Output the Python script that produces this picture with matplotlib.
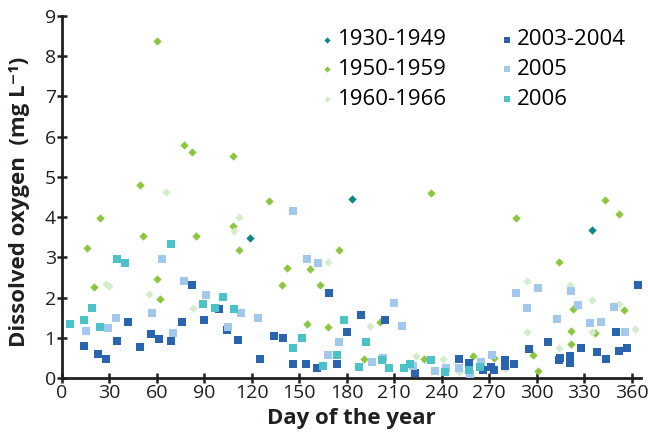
import matplotlib
matplotlib.use('Agg')
import matplotlib.pyplot as plt

# ==== data ==== #
DAYS_1930 = [119, 183, 335]
DO_1930 = [3.49, 4.45, 3.67]

DAYS_1950 = [60, 77, 82, 108, 49, 24, 108, 51, 85, 16, 112, 60, 20, 62,
             131, 233, 175, 142, 157, 139, 163, 155, 168, 201, 191, 229,
             343, 352, 287, 314, 323, 355, 337, 322, 322, 298, 301, 273, 260]
DO_1950 = [8.37, 5.80, 5.61, 5.51, 4.79, 3.97, 3.79, 3.52, 3.54, 3.22, 3.18, 2.45, 2.27, 1.96,
           4.39, 4.60, 3.19, 2.74, 2.70, 2.31, 2.30, 1.34, 1.26, 1.38, 0.48, 0.48,
           4.42, 4.07, 3.97, 2.88, 1.71, 1.70, 1.12, 1.17, 0.85, 0.56, 0.17, 0.50, 0.55]

DAYS_1960 = [66, 112, 109, 28, 30, 55, 83, 168, 195, 224, 241, 294, 321, 363,
             335, 352, 362, 294, 335, 314, 280, 251]
DO_1960 = [4.63, 4.00, 3.65, 2.34, 2.29, 2.08, 1.73, 2.88, 1.30, 0.55, 0.46, 2.42, 2.30, 2.37,
           1.94, 1.84, 1.22, 1.14, 1.14, 0.75, 0.23, 0.16]

DAYS_2003 = [82, 99, 14, 23, 28, 35, 42, 49, 56, 61, 69, 76, 90, 104, 111, 125,
             169, 189, 204, 134, 140, 180, 146, 154, 161, 174, 223,
             364, 350, 307, 295, 328, 338, 357, 352, 344, 315, 314, 321, 321,
             280, 280, 286, 251, 257, 266, 271, 273]
DO_2003 = [2.31, 1.72, 0.80, 0.60, 0.48, 0.93, 1.38, 0.78, 1.10, 0.98, 0.93, 1.40, 1.43, 1.20, 0.95, 0.46,
           2.12, 1.57, 1.43, 1.05, 1.00, 1.15, 0.36, 0.36, 0.26, 0.36, 0.13,
           2.30, 1.14, 0.90, 0.72, 0.75, 0.65, 0.75, 0.67, 0.47, 0.50, 0.45, 0.55, 0.38,
           0.44, 0.31, 0.36, 0.47, 0.37, 0.21, 0.28, 0.20]

DAYS_2005 = [63, 77, 91, 113, 124, 15, 29, 34, 57, 70, 105, 146, 155, 162, 210, 215,
             175, 168, 196, 203, 222, 236, 243, 301, 322, 287, 294, 326, 349, 313,
             334, 341, 356, 272, 251, 258, 265]
DO_2005 = [2.95, 2.41, 2.06, 1.61, 1.49, 1.17, 1.24, 1.49, 1.62, 1.11, 1.26, 4.15, 2.95, 2.85, 1.86, 1.29,
           0.89, 0.56, 0.39, 0.49, 0.31, 0.17, 0.26, 2.23, 2.16, 2.11, 1.73, 1.81, 1.76, 1.46,
           1.36, 1.39, 1.14, 0.56, 0.24, 0.10, 0.40]

DAYS_2006 = [69, 35, 40, 102, 19, 89, 97, 109, 5, 14, 24, 178, 152, 146, 192,
             165, 174, 188, 202, 207, 216, 220, 233, 242, 257, 264]
DO_2006 = [3.34, 2.97, 2.87, 2.02, 1.75, 1.85, 1.75, 1.72, 1.35, 1.43, 1.28, 1.43, 1.00, 0.75, 0.90,
           0.30, 0.58, 0.27, 0.45, 0.25, 0.25, 0.34, 0.45, 0.15, 0.21, 0.28]

X_TICKS = list(range(0, 361, 30))
Y_TICKS = list(range(0, 10))

AXIS_COLOR = '#231f20'
DIAMOND_SERIES = [
    ('1930-1949', DAYS_1930, DO_1930, '#0a8789'),
    ('1950-1959', DAYS_1950, DO_1950, '#8cc63e'),
    ('1960-1966', DAYS_1960, DO_1960, '#d3eccb'),
]
SQUARE_SERIES = [
    ('2003-2004', DAYS_2003, DO_2003, '#2b64ae'),
    ('2005', DAYS_2005, DO_2005, '#a2c9ed'),
    ('2006', DAYS_2006, DO_2006, '#4bc2c8'),
]


def drawChart(fileName='out.png'):
    plt.rcParams['font.family'] = ['Open Sans', 'DejaVu Sans']

    fig = plt.figure(figsize=(6.48, 4.32), dpi=100)
    ax = fig.add_axes([0.0957, 0.125, 0.8935, 0.838])

    handles = []
    for name, days, values, color in DIAMOND_SERIES:
        handles.append(ax.scatter(days, values, marker='D', s=18, color=color,
                                  linewidths=0, label=name, zorder=2))
    for name, days, values, color in SQUARE_SERIES:
        handles.append(ax.scatter(days, values, marker='s', s=38, color=color,
                                  linewidths=0, label=name, zorder=3))

    ax.set_xlim(0, 366)
    ax.set_ylim(0, 9)
    ax.set_xticks(X_TICKS)
    ax.set_yticks(Y_TICKS)

    for side in ('top', 'right'):
        ax.spines[side].set_visible(False)
    for side in ('left', 'bottom'):
        ax.spines[side].set_linewidth(2)
        ax.spines[side].set_color(AXIS_COLOR)
    ax.tick_params(direction='inout', length=7, width=1.8, color=AXIS_COLOR,
                   labelsize=14, labelcolor=AXIS_COLOR, pad=1)

    ax.set_xlabel('Day of the year', fontsize=16, fontweight='bold', color=AXIS_COLOR)
    ax.set_ylabel('Dissolved oxygen  (mg L\u207b\u00b9)', fontsize=16, fontweight='bold',
                  color=AXIS_COLOR)
    ax.xaxis.set_label_coords(0.50, -0.082)
    ax.yaxis.set_label_coords(-0.055, 0.486)

    ax.legend(handles=handles, ncol=2, loc='upper left', bbox_to_anchor=(0.447, 0.963),
              frameon=False, fontsize=16, handlelength=0.6, handletextpad=0.15,
              columnspacing=2.4, labelspacing=0.40, markerscale=0.75, borderaxespad=0,
              borderpad=0)

    fig.savefig(fileName, dpi=100)


if __name__ == '__main__':
    drawChart()
